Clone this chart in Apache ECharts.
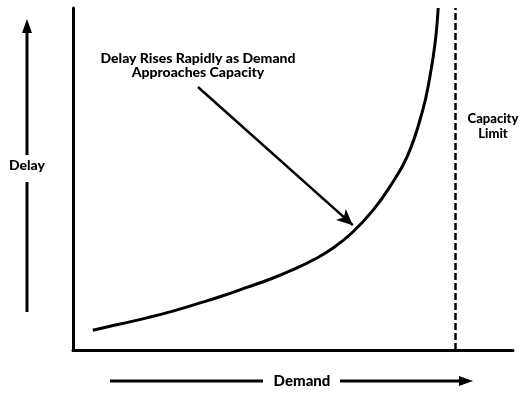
<!DOCTYPE html>
<html><head><meta charset="utf-8">
<script src="https://cdn.jsdelivr.net/npm/echarts@6/dist/echarts.min.js"></script>
<style>html,body{margin:0;padding:0;background:#fff}#c{width:522px;height:411px}</style>
</head><body><div id="c"></div>
<script>
var demand = [4.5, 10.7, 16.8, 22.5, 28.2, 33.9, 39.5, 45.2, 50.9, 55.0, 59.1, 63.6, 68.2, 72.0, 76.1, 79.5, 81.1, 82.3, 83.0];
var delay = [5.8, 7.6, 9.4, 11.3, 13.5, 15.8, 18.3, 20.9, 24.0, 26.6, 29.8, 34.5, 40.9, 47.7, 57.0, 70.2, 79.8, 89.8, 100];
var capacityLimit = 86.8;
var arrowFrom = [28.4, 76.9];
var arrowTo = [63.6, 36.5];
var annotation = ['Delay Rises Rapidly as Demand', 'Approaches Capacity'];
var capacityLabel = ['Capacity', 'Limit'];
var yName = 'Delay';
var xName = 'Demand';

var font = 'Lato, "Liberation Sans", sans-serif';
var chart = echarts.init(document.getElementById('c'), null, {renderer: 'canvas'});
chart.setOption({
  animation: false,
  backgroundColor: '#fff',
  grid: {left: 73, right: 9, top: 8, bottom: 61},
  xAxis: {type: 'value', min: 0, max: 100, axisLine: {show: true, onZero: false, lineStyle: {color: '#000', width: 3}},
    axisTick: {show: false}, axisLabel: {show: false}, splitLine: {show: false}},
  yAxis: {type: 'value', min: 0, max: 100, axisLine: {show: true, lineStyle: {color: '#000', width: 3}},
    axisTick: {show: false}, axisLabel: {show: false}, splitLine: {show: false}},
  series: [{
    type: 'line',
    data: demand.map(function (d, i) { return [d, delay[i]]; }),
    smooth: 0.45,
    symbol: 'none',
    lineStyle: {color: '#000', width: 3},
    markLine: {
      silent: true,
      symbol: ['none', 'none'],
      symbolSize: 0,
      label: {show: false},
      data: [
        [{coord: arrowFrom, symbol: 'none', lineStyle: {color: '#000', width: 2.5, type: 'solid'}},
         {coord: arrowTo, symbol: 'arrow', symbolSize: [11, 16]}],
        {xAxis: capacityLimit, lineStyle: {color: '#000', width: 2.5, type: [7, 3]}}
      ]
    }
  }],
  graphic: [
    {type: 'text', x: 198, y: 51, style: {text: annotation.join('\n'), font: '900 14px ' + font, fill: '#000', textAlign: 'center', lineHeight: 14}},
    {type: 'text', x: 493, y: 111, style: {text: capacityLabel.join('\n'), font: '900 13px ' + font, fill: '#000', textAlign: 'center', lineHeight: 15}},
    {type: 'text', x: 27, y: 158, style: {text: yName, font: '900 14px ' + font, fill: '#000', textAlign: 'center'}},
    {type: 'line', shape: {x1: 27, y1: 312, x2: 27, y2: 182}, style: {stroke: '#000', lineWidth: 3}},
    {type: 'line', shape: {x1: 27, y1: 155, x2: 27, y2: 30}, style: {stroke: '#000', lineWidth: 3}},
    {type: 'polygon', shape: {points: [[27, 19], [22, 33], [32, 33]]}, style: {fill: '#000'}},
    {type: 'text', x: 302, y: 374, style: {text: xName, font: '900 15px ' + font, fill: '#000', textAlign: 'center'}},
    {type: 'line', shape: {x1: 110, y1: 381, x2: 263, y2: 381}, style: {stroke: '#000', lineWidth: 3}},
    {type: 'line', shape: {x1: 340, y1: 381, x2: 462, y2: 381}, style: {stroke: '#000', lineWidth: 3}},
    {type: 'polygon', shape: {points: [[473, 381], [459, 376], [459, 386]]}, style: {fill: '#000'}}
  ]
});
</script></body></html>
